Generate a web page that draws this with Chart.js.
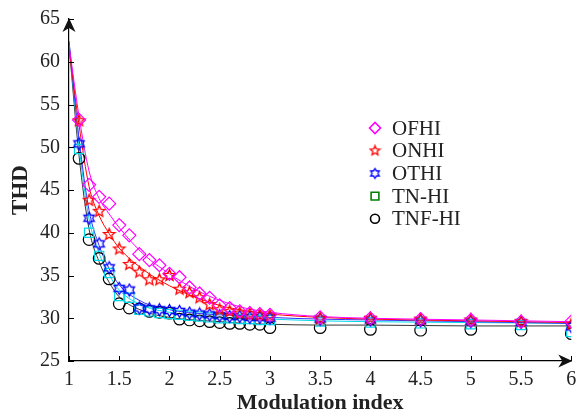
<!DOCTYPE html>
<html>
<head>
<meta charset="utf-8">
<script src="https://cdn.jsdelivr.net/npm/chart.js@4/dist/chart.umd.min.js"></script>
<style>
  html, body { margin: 0; padding: 0; background: #fff; }
  #wrap { width: 579px; height: 417px; }
</style>
</head>
<body>
<div id="wrap"><canvas id="thdChart" width="579" height="417"></canvas></div>
<script>
// ── Data ──
const modIndex = [1.1, 1.2, 1.3, 1.4, 1.5, 1.6, 1.7, 1.8, 1.9, 2.0,
                  2.1, 2.2, 2.3, 2.4, 2.5, 2.6, 2.7, 2.8, 2.9, 3.0,
                  3.5, 4.0, 4.5, 5.0, 5.5, 6.0];

const ofhi  = [53.2, 45.6, 44.2, 43.4, 40.9, 39.7, 37.5, 36.8, 36.2, 35.2,
               34.8, 33.6, 32.9, 32.4, 31.5, 31.2, 30.8, 30.6, 30.5, 30.4,
               30.1, 30.0, 29.9, 29.8, 29.6, 29.6];
const onhi  = [53.1, 43.8, 42.5, 39.8, 38.1, 36.3, 35.4, 34.5, 34.5, 35.0,
               33.4, 33.0, 32.4, 31.6, 31.0, 30.8, 30.6, 30.5, 30.4, 30.3,
               30.0, 30.0, 29.9, 29.8, 29.6, 29.3];
const othi  = [50.4, 41.7, 38.7, 35.9, 33.5, 33.3, 31.2, 31.1, 31.0, 30.9,
               30.8, 30.6, 30.5, 30.4, 30.3, 30.2, 30.2, 30.1, 30.1, 30.0,
               29.9, 29.8, 29.7, 29.6, 29.5, 29.0];
const tnhi  = [49.8, 40.0, 37.3, 35.3, 32.6, 32.4, 31.0, 30.8, 30.6, 30.5,
               30.4, 30.3, 30.2, 30.1, 30.0, 30.0, 29.9, 29.9, 29.8, 29.8,
               29.6, 29.5, 29.4, 29.3, 29.2, 28.4];
const tnfhi = [48.7, 39.2, 37.0, 34.6, 31.7, 31.2, 31.1, 30.8, 30.7, 30.6,
               29.9, 29.8, 29.7, 29.6, 29.5, 29.4, 29.4, 29.3, 29.3, 28.9,
               28.9, 28.7, 28.6, 28.7, 28.6, 28.2];

// fitted curves drawn through the markers
const fitX     = [1.0, 1.1, 1.2, 1.3, 1.4, 1.5, 1.75, 2.0, 2.25, 2.5, 2.75, 3.0, 3.5, 4.0, 5.0, 6.0];
const fitOfhi  = [62.0, 53.6, 47.2, 44.0, 42.2, 40.6, 37.4, 35.2, 33.4, 32.1, 31.2, 30.7, 30.2, 30.0, 29.8, 29.6];
const fitOnhi  = [61.5, 52.6, 45.4, 42.0, 39.9, 38.2, 35.6, 33.8, 32.5, 31.5, 30.9, 30.5, 30.1, 29.9, 29.7, 29.5];
const fitOthi  = [62.4, 51.0, 42.6, 38.5, 35.8, 33.9, 31.8, 31.0, 30.6, 30.4, 30.3, 30.1, 29.9, 29.8, 29.6, 29.4];
const fitTnhi  = [62.4, 50.2, 41.6, 37.6, 35.1, 33.3, 31.4, 30.7, 30.3, 30.1, 30.0, 29.9, 29.7, 29.6, 29.5, 29.4];
const fitTnfhi = [62.0, 49.0, 40.4, 36.6, 34.2, 32.5, 30.8, 30.1, 29.8, 29.6, 29.4, 29.3, 29.2, 29.2, 29.1, 29.1];

const xTicks = { min: 1, max: 6, step: 0.5 };
const yTicks = { min: 25, max: 65, step: 5 };

const seriesNames = ['OFHI', 'ONHI', 'OTHI', 'TN-HI', 'TNF-HI'];

const SERIF = "'Liberation Serif', 'DejaVu Serif', serif";

// ── Marker images ──
function makeStar(color, r, points, inner) {
    const size = Math.ceil(r * 2 + 3);
    const c = document.createElement('canvas');
    c.width = size; c.height = size;
    const g = c.getContext('2d');
    const cx = size / 2, cy = size / 2;
    g.beginPath();
    for (let i = 0; i < points * 2; i++) {
        const rad = (i % 2 === 0) ? r : r * inner;
        const a = -Math.PI / 2 + i * Math.PI / points;
        const px = cx + rad * Math.cos(a), py = cy + rad * Math.sin(a);
        if (i === 0) g.moveTo(px, py); else g.lineTo(px, py);
    }
    g.closePath();
    g.strokeStyle = color;
    g.lineWidth = 1.3;
    g.stroke();
    return c;
}

const starRed  = makeStar('#ff0000', 6, 5, 0.45);
const hexBlue  = makeStar('#0000ff', 6, 6, 0.58);
const starRedS = makeStar('#ff0000', 5, 5, 0.45);
const hexBlueS = makeStar('#0000ff', 5, 6, 0.58);

const toPts = (xs, ys) => xs.map((x, i) => ({ x, y: ys[i] }));

function markerSet(label, ys, style, color, radius) {
    return {
        label,
        data: toPts(modIndex, ys),
        showLine: false,
        pointStyle: style,
        pointRadius: radius,
        pointBorderColor: color,
        pointBackgroundColor: 'rgba(0,0,0,0)',
        pointBorderWidth: 1.2,
        order: 1,
    };
}

function fitSet(ys, color) {
    return {
        label: '',
        data: toPts(fitX, ys),
        showLine: true,
        borderColor: color,
        borderWidth: 1,
        pointRadius: 0,
        cubicInterpolationMode: 'monotone',
        order: 2,
    };
}

// ── Plugins ──
const axisDecor = {
    id: 'axisDecor',
    afterDraw(chart) {
        const { ctx, chartArea: a, scales } = chart;
        ctx.save();
        ctx.strokeStyle = '#000';
        ctx.lineWidth = 1;
        // inward tick marks
        scales.x.ticks.forEach(t => {
            const px = Math.round(scales.x.getPixelForValue(t.value)) + 0.5;
            ctx.beginPath(); ctx.moveTo(px, a.bottom); ctx.lineTo(px, a.bottom - 5); ctx.stroke();
        });
        scales.y.ticks.forEach(t => {
            const py = Math.round(scales.y.getPixelForValue(t.value)) + 0.5;
            ctx.beginPath(); ctx.moveTo(a.left, py); ctx.lineTo(a.left + 5, py); ctx.stroke();
        });
        // arrow heads
        ctx.fillStyle = '#111';
        const x0 = a.left, y0 = a.top - 1;
        ctx.beginPath();
        ctx.moveTo(x0, y0);
        ctx.lineTo(x0 - 6.5, y0 + 14);
        ctx.lineTo(x0, y0 + 10);
        ctx.lineTo(x0 + 6.5, y0 + 14);
        ctx.closePath(); ctx.fill();
        const x1 = a.right + 1, y1 = a.bottom;
        ctx.beginPath();
        ctx.moveTo(x1, y1);
        ctx.lineTo(x1 - 14, y1 - 6.5);
        ctx.lineTo(x1 - 10, y1);
        ctx.lineTo(x1 - 14, y1 + 6.5);
        ctx.closePath(); ctx.fill();
        ctx.restore();
    }
};

const legendBox = {
    id: 'legendBox',
    afterDraw(chart) {
        const { ctx } = chart;
        const items = [
            { pointStyle: 'rectRot', radius: 5.5, color: '#ff00ff' },
            { pointStyle: starRedS, radius: 5, color: '#ff0000' },
            { pointStyle: hexBlueS, radius: 5, color: '#0000ff' },
            { pointStyle: 'rect', radius: 5.5, color: '#008000' },
            { pointStyle: 'circle', radius: 4.5, color: '#000000' },
        ];
        ctx.save();
        ctx.font = '21px ' + SERIF;
        ctx.textBaseline = 'middle';
        items.forEach((it, i) => {
            const y = 128 + i * 22.7;
            ctx.strokeStyle = it.color;
            ctx.fillStyle = 'rgba(0,0,0,0)';
            ctx.lineWidth = 1.6;
            Chart.helpers.drawPoint(ctx, { pointStyle: it.pointStyle, radius: it.radius, borderWidth: 1.6 }, 375, y);
            ctx.fillStyle = '#222';
            ctx.fillText(seriesNames[i], 392, y + 1);
        });
        ctx.restore();
    }
};

const tickFontX = { family: SERIF, size: 20 };
const tickFontY = { family: SERIF, size: 20 };

new Chart(document.getElementById('thdChart'), {
    type: 'scatter',
    data: {
        datasets: [
            fitSet(fitOfhi, '#ff00ff'),
            fitSet(fitOnhi, '#ff0000'),
            fitSet(fitOthi, '#3030ff'),
            fitSet(fitTnhi, '#00d8e8'),
            fitSet(fitTnfhi, '#333333'),
            markerSet('OFHI', ofhi, 'rectRot', '#ff00ff', 6.5),
            markerSet('ONHI', onhi, starRed, '#ff0000', 6),
            markerSet('OTHI', othi, hexBlue, '#0000ff', 6),
            markerSet('TN-HI', tnhi, 'rect', '#00d8e8', 6.5),
            markerSet('TNF-HI', tnfhi, 'circle', '#000000', 5.8),
        ],
    },
    options: {
        responsive: false,
        animation: false,
        layout: { padding: { top: 19, right: 6, left: 0, bottom: 0 } },
        plugins: {
            legend: { display: false },
            tooltip: { enabled: false },
        },
        scales: {
            x: {
                type: 'linear',
                min: xTicks.min,
                max: xTicks.max,
                afterFit: (s) => { s.height = 56; s.paddingLeft = 0; s.paddingRight = 0; },
                ticks: {
                    stepSize: xTicks.step,
                    color: '#222',
                    font: tickFontX,
                    padding: 7,
                    maxRotation: 0,
                    callback: (v) => String(Number(v)),
                },
                grid: { display: false, drawTicks: false },
                border: { display: true, color: '#000', width: 1.2 },
                title: {
                    display: true,
                    text: 'Modulation index',
                    color: '#222',
                    font: { family: SERIF, size: 22, weight: 'bold' },
                    padding: { top: 0, bottom: 0 },
                },
            },
            y: {
                type: 'linear',
                min: yTicks.min,
                max: yTicks.max,
                afterFit: (s) => { s.width = 69; s.paddingTop = 0; s.paddingBottom = 0; },
                ticks: {
                    stepSize: yTicks.step,
                    color: '#222',
                    font: tickFontY,
                    padding: 9,
                },
                grid: { display: false, drawTicks: false },
                border: { display: true, color: '#000', width: 1.2 },
                title: {
                    display: true,
                    text: 'THD',
                    color: '#222',
                    font: { family: SERIF, size: 23, weight: 'bold' },
                    padding: { top: 7, bottom: 0 },
                },
            },
        },
    },
    plugins: [axisDecor, legendBox],
});
</script>
</body>
</html>
